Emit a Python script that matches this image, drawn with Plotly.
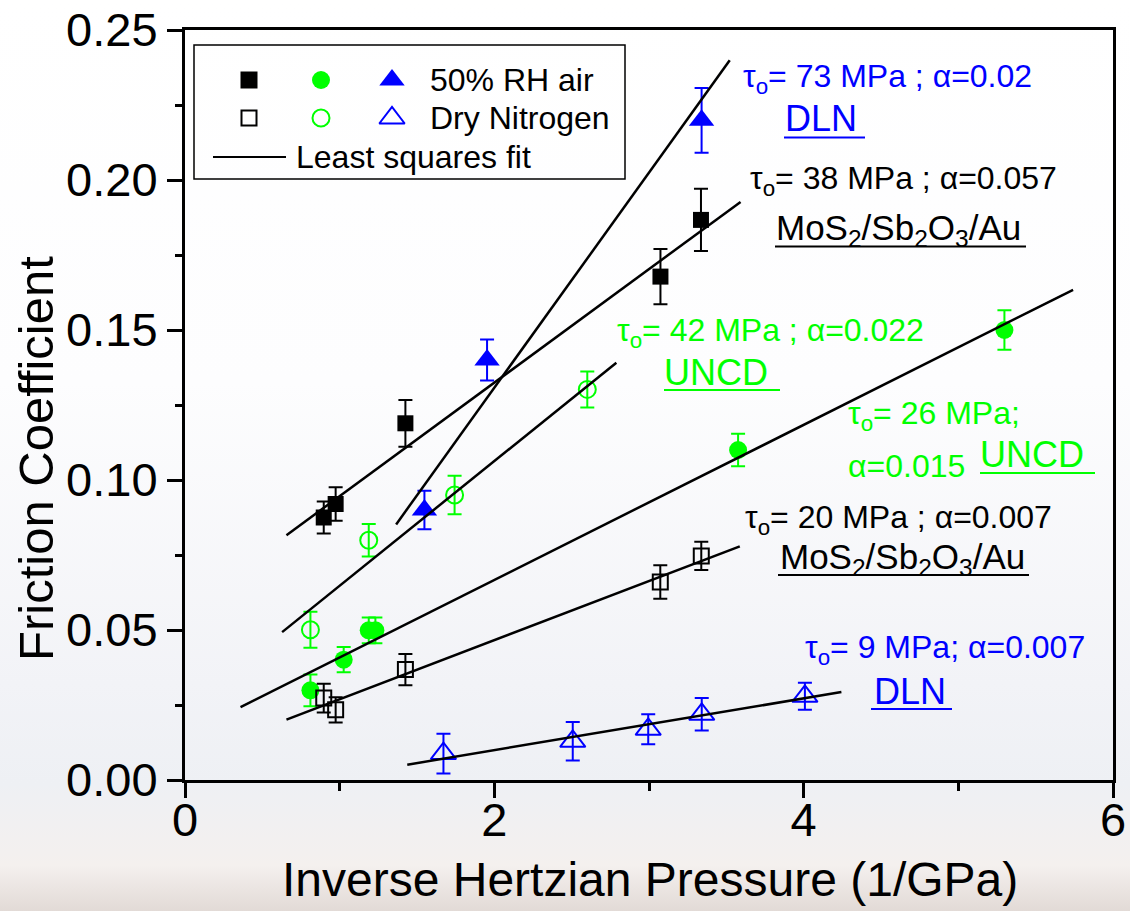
import base64
import plotly.graph_objects as go

# ---------------- data ----------------
# MoS2/Sb2O3/Au, 50% RH air (filled black squares)
mos_air_x = [0.897, 0.974, 1.425, 3.074, 3.336]
mos_air_y = [0.0875, 0.0920, 0.1189, 0.1678, 0.1867]
mos_air_err = [0.0053, 0.0056, 0.0078, 0.0092, 0.0104]
# UNCD, 50% RH air (filled green circles)
uncd_air_x = [0.811, 1.026, 1.188, 1.231, 3.576, 5.298]
uncd_air_y = [0.0299, 0.0401, 0.0499, 0.0499, 0.1100, 0.1500]
uncd_air_err = [0.0053, 0.0042, 0.0043, 0.0043, 0.0054, 0.0066]
# DLN, 50% RH air (filled blue triangles)
dln_air_x = [1.548, 1.953, 3.340]
dln_air_y = [0.0900, 0.1400, 0.2199]
dln_air_err = [0.0064, 0.0068, 0.0108]
# MoS2/Sb2O3/Au, dry nitrogen (open black squares)
mos_dry_x = [0.897, 0.974, 1.425, 3.073, 3.338]
mos_dry_y = [0.0273, 0.0234, 0.0368, 0.0660, 0.0747]
mos_dry_err = [0.0048, 0.0042, 0.0052, 0.0056, 0.0047]
# UNCD, dry nitrogen (open green circles)
uncd_dry_x = [0.811, 1.188, 1.743, 2.601]
uncd_dry_y = [0.0501, 0.0799, 0.0950, 0.1302]
uncd_dry_err = [0.0060, 0.0054, 0.0064, 0.0060]
# DLN, dry nitrogen (open blue triangles)
dln_dry_x = [1.671, 2.507, 2.995, 3.341, 4.008]
dln_dry_y = [0.0088, 0.0129, 0.0169, 0.0219, 0.0279]
dln_dry_err = [0.0066, 0.0064, 0.0050, 0.0054, 0.0045]

# least squares fit lines: [x start, x end], [y start, y end]
fit_mos_air_x, fit_mos_air_y = [0.656, 3.592], [0.0816, 0.1927]
fit_dln_air_x, fit_dln_air_y = [1.365, 3.522], [0.0852, 0.2399]
fit_uncd_dry_x, fit_uncd_dry_y = [0.628, 2.789], [0.0493, 0.1391]
fit_uncd_air_x, fit_uncd_air_y = [0.359, 5.742], [0.0243, 0.1634]
fit_mos_dry_x, fit_mos_dry_y = [0.656, 3.587], [0.0201, 0.0779]
fit_dln_dry_x, fit_dln_dry_y = [1.437, 4.244], [0.0051, 0.0293]

x_ticks = [0, 2, 4, 6]
y_ticks = [0.00, 0.05, 0.10, 0.15, 0.20, 0.25]
y_tick_text = ["0.00", "0.05", "0.10", "0.15", "0.20", "0.25"]

legend_labels = ["50% RH air", "Dry Nitrogen", "Least squares fit"]

# ---------------- styling ----------------
FONT = "Liberation Sans, Arial, sans-serif"
BLACK = "#000000"
GREEN = "#00FF00"
BLUE = "#0000FF"
W, H = 1130, 911
L, R, T, B = 185, 17, 30, 131
PW, PH = W - L - R, H - T - B
XR = [0, 6]
YR = [0, 0.25]


def px2x(p):
    return (p - L) / PW * (XR[1] - XR[0]) + XR[0]


def py2y(p):
    return (H - B - p) / PH * (YR[1] - YR[0]) + YR[0]


def pxp(p):  # page pixel -> paper fraction
    return (p - L) / PW


def pyp(p):
    return (H - B - p) / PH


fig = go.Figure()


def add_series(x, y, err, color, symbol, size, open_=False):
    fig.add_trace(go.Scatter(
        x=x, y=y, mode="markers", showlegend=False,
        marker=dict(symbol=symbol, size=size, color=color,
                    line=dict(color=color, width=2 if open_ else 0)),
        error_y=dict(type="data", array=err, color=color, thickness=2, width=7),
    ))


add_series(mos_air_x, mos_air_y, mos_air_err, BLACK, "square", 16)
add_series(uncd_air_x, uncd_air_y, uncd_air_err, GREEN, "circle", 18)
add_series(dln_air_x, dln_air_y, dln_air_err, BLUE, "triangle-up", 22)
add_series(mos_dry_x, mos_dry_y, mos_dry_err, BLACK, "square-open", 15, True)
add_series(uncd_dry_x, uncd_dry_y, uncd_dry_err, GREEN, "circle-open", 17, True)
add_series(dln_dry_x, dln_dry_y, dln_dry_err, BLUE, "triangle-up-open", 22, True)

for fx, fy in [(fit_mos_air_x, fit_mos_air_y), (fit_dln_air_x, fit_dln_air_y),
               (fit_uncd_dry_x, fit_uncd_dry_y), (fit_uncd_air_x, fit_uncd_air_y),
               (fit_mos_dry_x, fit_mos_dry_y), (fit_dln_dry_x, fit_dln_dry_y)]:
    fig.add_trace(go.Scatter(x=fx, y=fy, mode="lines", showlegend=False,
                             line=dict(color=BLACK, width=2.5)))

# ---------------- hand-made legend ----------------
leg_rows = [80, 118]
leg_cols = [249, 321, 392]
leg_syms = [["square", "circle", "triangle-up"],
            ["square-open", "circle-open", "triangle-up-open"]]
leg_sizes = [[17, 18, 22], [15, 17, 22]]
leg_cols_c = [BLACK, GREEN, BLUE]
for r, py in enumerate(leg_rows):
    for c, pxx in enumerate(leg_cols):
        fig.add_trace(go.Scatter(
            x=[px2x(pxx)], y=[py2y(py)], mode="markers", showlegend=False,
            marker=dict(symbol=leg_syms[r][c], size=leg_sizes[r][c], color=leg_cols_c[c],
                        line=dict(color=leg_cols_c[c], width=2 if r == 1 else 0))))
fig.add_trace(go.Scatter(x=[px2x(213), px2x(286)], y=[py2y(157), py2y(157)], mode="lines",
                         showlegend=False, line=dict(color=BLACK, width=2)))

shapes = [dict(type="rect", xref="x", yref="y", x0=px2x(194), x1=px2x(625),
               y0=py2y(45), y1=py2y(179), line=dict(color=BLACK, width=1.5),
               fillcolor="rgba(0,0,0,0)")]

annotations = []


def ann(text, px, py, color, size, xanchor="left"):
    annotations.append(dict(text=text, x=px2x(px), y=py2y(py), xref="x", yref="y",
                            xanchor=xanchor, yanchor="middle", showarrow=False,
                            font=dict(family=FONT, size=size, color=color)))


ann(legend_labels[0], 428, 80, BLACK, 32)
ann(legend_labels[1], 428, 118, BLACK, 32)
ann(legend_labels[2], 294, 157, BLACK, 32)

MOS = "MoS<sub>2</sub>/Sb<sub>2</sub>O<sub>3</sub>/Au"
ann("τ<sub>o</sub>= 73 MPa ; α=0.02", 741, 78, BLUE, 32)
ann("DLN", 783, 118, BLUE, 36)
ann("τ<sub>o</sub>= 38 MPa ; α=0.057", 748, 180, BLACK, 32)
ann(MOS, 774, 230, BLACK, 35)
ann("τ<sub>o</sub>= 42 MPa ; α=0.022", 615, 332, GREEN, 32)
ann("UNCD", 662, 372, GREEN, 36)
ann("τ<sub>o</sub>= 26 MPa;", 846, 415, GREEN, 32)
ann("α=0.015", 846, 466, GREEN, 32)
ann("UNCD", 978, 454, GREEN, 36)
ann("τ<sub>o</sub>= 20 MPa ; α=0.007", 743, 519, BLACK, 32)
ann(MOS, 778, 559, BLACK, 35)
ann("τ<sub>o</sub>= 9 MPa; α=0.007", 803, 649, BLUE, 32)
ann("DLN", 872, 691, BLUE, 36)

for x0, x1, py, col in [(784, 865, 137.5, BLUE), (775, 1026, 246.5, BLACK),
                        (664, 780, 390, GREEN), (980, 1095, 473, GREEN),
                        (778, 1029, 575, BLACK), (871, 952, 709, BLUE)]:
    shapes.append(dict(type="line", xref="x", yref="y", x0=px2x(x0), x1=px2x(x1),
                       y0=py2y(py), y1=py2y(py), line=dict(color=col, width=2)))

# axis titles (paper coordinates are relative to the plot area)
annotations.append(dict(text="Inverse Hertzian Pressure (1/GPa)", x=pxp(650), y=pyp(879),
                        xref="paper", yref="paper", xanchor="center", yanchor="middle",
                        showarrow=False, font=dict(family=FONT, size=48, color=BLACK)))
annotations.append(dict(text="Friction Coefficient", x=pxp(36), y=pyp(459),
                        xref="paper", yref="paper", xanchor="center", yanchor="middle",
                        textangle=-90, showarrow=False,
                        font=dict(family=FONT, size=49, color=BLACK)))

# ---------------- background gradient (sky-like page) ----------------
svg = f'''<svg xmlns="http://www.w3.org/2000/svg" width="{W}" height="{H}" viewBox="0 0 {W} {H}" preserveAspectRatio="none">
<defs><linearGradient id="g" x1="0" y1="0" x2="0" y2="1">
<stop offset="0" stop-color="#FFFFFF"/>
<stop offset="0.42" stop-color="#FDFDFE"/>
<stop offset="0.75" stop-color="#F2F3F7"/>
<stop offset="0.86" stop-color="#EEF0F4"/>
<stop offset="0.95" stop-color="#F4F0EE"/>
<stop offset="1" stop-color="#E2DAD6"/>
</linearGradient></defs>
<rect width="{W}" height="{H}" fill="url(#g)"/></svg>'''
src = "data:image/svg+xml;base64," + base64.b64encode(svg.encode()).decode()

axis_common = dict(showgrid=False, zeroline=False, linecolor=BLACK, linewidth=3,
                   tickcolor=BLACK, tickwidth=2.5, ticklen=15, automargin=False,
                   tickfont=dict(family=FONT, size=47, color=BLACK))

fig.update_layout(
    width=W, height=H, autosize=False,
    margin=dict(l=L, r=R, t=T, b=B, pad=0, autoexpand=False),
    paper_bgcolor="white", plot_bgcolor="rgba(0,0,0,0)",
    images=[dict(source=src, xref="paper", yref="paper", x=pxp(0), y=pyp(0),
                 sizex=W / PW, sizey=H / PH, xanchor="left", yanchor="top",
                 sizing="stretch", layer="below")],
    xaxis=dict(range=XR, tickvals=x_ticks, ticks="outside", showline=True, mirror=True,
               ticklabelstandoff=-18,
               minor=dict(dtick=1, tick0=0, ticks="outside", ticklen=8, tickwidth=2.5,
                          tickcolor=BLACK),
               **axis_common),
    yaxis=dict(range=YR, tickvals=y_ticks, ticktext=y_tick_text, ticks="outside",
               showline=True, mirror=True,
               minor=dict(dtick=0.025, tick0=0, ticks="outside", ticklen=7, tickwidth=2.5,
                          tickcolor=BLACK),
               **axis_common),
    xaxis2=dict(range=XR, overlaying="x", side="top", anchor="y", tickvals=x_ticks,
                ticks="inside", showticklabels=False, showline=False, showgrid=False,
                zeroline=False, tickcolor=BLACK, tickwidth=2.5, ticklen=15, automargin=False,
                minor=dict(dtick=1, tick0=0, ticks="inside", ticklen=8, tickwidth=2.5,
                           tickcolor=BLACK)),
    yaxis2=dict(range=YR, overlaying="y", side="right", anchor="x", tickvals=y_ticks,
                ticks="inside", showticklabels=False, showline=False, showgrid=False,
                zeroline=False, tickcolor=BLACK, tickwidth=2.5, ticklen=14, automargin=False,
                minor=dict(dtick=0.025, tick0=0, ticks="inside", ticklen=7, tickwidth=2.5,
                           tickcolor=BLACK)),
    shapes=shapes,
    annotations=annotations,
    showlegend=False,
)

fig.write_html("out.html")
